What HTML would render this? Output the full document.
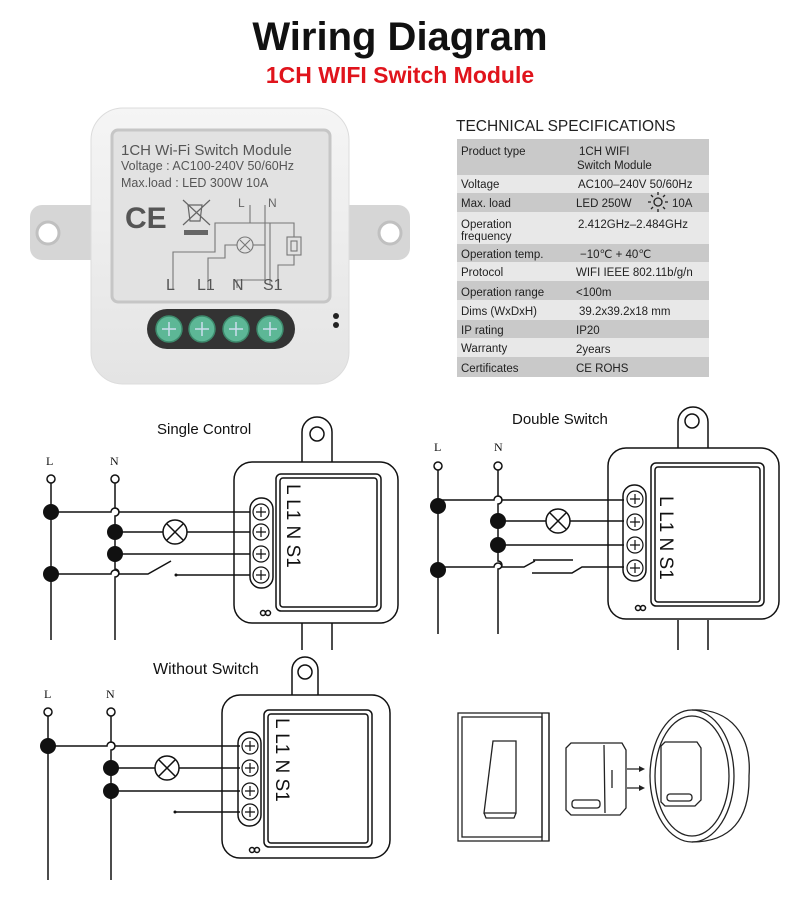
<!DOCTYPE html>
<html><head><meta charset="utf-8"><style>
html,body{margin:0;padding:0;background:#fff}
svg{display:block}
text{font-family:"Liberation Sans",Arial,sans-serif}
text.sf{font-family:"Liberation Serif",serif}
</style></head><body>
<svg width="800" height="900" viewBox="0 0 800 900" xmlns="http://www.w3.org/2000/svg">
<defs>
<linearGradient id="bodyg" x1="0" y1="0" x2="0" y2="1"><stop offset="0" stop-color="#f5f5f5"/><stop offset="1" stop-color="#e4e4e4"/></linearGradient>
</defs>
<text x="400" y="50" text-anchor="middle" font-size="40" font-weight="bold" fill="#111">Wiring Diagram</text>
<text x="400" y="83" text-anchor="middle" font-size="23" font-weight="bold" fill="#e0141c">1CH WIFI Switch Module</text>

<!-- Photo module -->
<g>
<rect x="30" y="205" width="80" height="55" rx="12" fill="#d6d6d6"/>
<rect x="330" y="205" width="80" height="55" rx="12" fill="#d6d6d6"/>
<circle cx="48" cy="233" r="11" fill="#fff" stroke="#c0c0c0" stroke-width="3"/>
<circle cx="390" cy="233" r="11" fill="#fff" stroke="#c0c0c0" stroke-width="3"/>
<rect x="91" y="108" width="258" height="276" rx="32" fill="url(#bodyg)" stroke="#dcdcdc"/>
<rect x="112" y="130" width="218" height="172" rx="6" fill="#e2e2e2" stroke="#c6c6c6" stroke-width="3"/>
<text x="121" y="155" font-size="15" fill="#555">1CH Wi-Fi Switch Module</text>
<text x="121" y="170" font-size="12.5" fill="#555">Voltage : AC100-240V 50/60Hz</text>
<text x="121" y="187" font-size="12.5" fill="#555">Max.load : LED 300W  10A</text>
<text x="125" y="228" font-size="30" font-weight="bold" fill="#555">CE</text>
<g stroke="#666" fill="none" stroke-width="1.2">
<path d="M183 200 L210 225 M210 200 L183 225 M188 205 h14 l-2 16 h-10 z"/>
</g>
<rect x="184" y="230" width="24" height="5" fill="#666"/>
<g stroke="#777" fill="none" stroke-width="1.1">
<path d="M173 290 V252 H215 V223 H270 V285"/>
<path d="M250 205 V223"/>
<path d="M265 205 V225 V280 H237 V288"/>
<circle cx="245" cy="245" r="8"/>
<path d="M240 240 L250 250 M250 240 L240 250"/>
<path d="M237 245 H225 V258 H208 V290"/>
<path d="M253 245 H265"/>
<rect x="287" y="237" width="14" height="18"/><rect x="291" y="241" width="6" height="10"/>
<path d="M265 223 H294 V237 M294 255 V265 H278 V288"/>
</g>
<text x="238" y="207" font-size="12" fill="#666">L</text><text x="268" y="207" font-size="12" fill="#666">N</text>
<text x="166" y="290" font-size="16" fill="#555">L</text>
<text x="197" y="290" font-size="16" fill="#555">L1</text>
<text x="232" y="290" font-size="16" fill="#555">N</text>
<text x="263" y="290" font-size="16" fill="#555">S1</text>
<rect x="147" y="309" width="148" height="40" rx="20" fill="#333"/>
<g fill="#5db796" stroke="#3d8a6c" stroke-width="1.5">
<circle cx="169" cy="329" r="13"/><circle cx="202" cy="329" r="13"/><circle cx="236" cy="329" r="13"/><circle cx="270" cy="329" r="13"/>
</g>
<g stroke="#cde" stroke-width="1.5"><path d="M162 329h14M169 322v14M195 329h14M202 322v14M229 329h14M236 322v14M263 329h14M270 322v14"/></g>
<circle cx="336" cy="316" r="3" fill="#222"/><circle cx="336" cy="325" r="3" fill="#222"/>
</g>

<!-- Spec table -->
<text x="456" y="131" font-size="15.5" fill="#222">TECHNICAL SPECIFICATIONS</text>
<g>
<rect x="457" y="139" width="252" height="36" fill="#c9c9c9"/>
<rect x="457" y="175" width="252" height="18" fill="#e8e8e8"/>
<rect x="457" y="193" width="252" height="19" fill="#c9c9c9"/>
<rect x="457" y="212" width="252" height="32" fill="#e8e8e8"/>
<rect x="457" y="244" width="252" height="18" fill="#c9c9c9"/>
<rect x="457" y="262" width="252" height="19" fill="#e8e8e8"/>
<rect x="457" y="281" width="252" height="19" fill="#c9c9c9"/>
<rect x="457" y="300" width="252" height="20" fill="#e8e8e8"/>
<rect x="457" y="320" width="252" height="18" fill="#c9c9c9"/>
<rect x="457" y="338" width="252" height="19" fill="#e8e8e8"/>
<rect x="457" y="357" width="252" height="20" fill="#c9c9c9"/>
</g>
<g font-size="11.5" fill="#222">
<text x="461" y="155">Product type</text><text x="579" y="155">1CH WIFI</text><text x="577" y="169">Switch Module</text>
<text x="461" y="188">Voltage</text><text x="578" y="188">AC100–240V 50/60Hz</text>
<text x="461" y="207">Max. load</text><text x="576" y="207">LED 250W</text><text x="672" y="207">10A</text>
<text x="461" y="228">Operation</text><text x="461" y="240">frequency</text><text x="578" y="228">2.412GHz–2.484GHz</text>
<text x="461" y="258">Operation temp.</text><text x="580" y="258">−10℃ + 40℃</text>
<text x="461" y="276">Protocol</text><text x="576" y="276">WIFI  IEEE 802.11b/g/n</text>
<text x="461" y="296">Operation range</text><text x="576" y="296">&lt;100m</text>
<text x="461" y="315">Dims (WxDxH)</text><text x="579" y="315">39.2x39.2x18 mm</text>
<text x="461" y="334">IP rating</text><text x="576" y="334">IP20</text>
<text x="461" y="352">Warranty</text><text x="576" y="353">2years</text>
<text x="461" y="372">Certificates</text><text x="576" y="372">CE ROHS</text>
</g>
<g stroke="#222" stroke-width="1.3" fill="none"><circle cx="658" cy="202" r="4"/><path d="M651 202h-3M665 202h3M658 195v-3M658 209v3M653 197l-2-2M663 207l2 2M663 197l2-2M653 207l-2 2"/></g>

<!-- Single control -->
<text x="157" y="434" font-size="15" fill="#111">Single Control</text>
<text class="sf" x="46" y="465" font-size="12" fill="#111" style="font-family:'Liberation Serif',serif">L</text>
<text class="sf" x="110" y="465" font-size="12" fill="#111" style="font-family:'Liberation Serif',serif">N</text>
<g stroke="#111" stroke-width="1.5" fill="none">
<circle cx="51" cy="479" r="4"/><circle cx="115" cy="479" r="4"/>
<path d="M51 483V640M115 483V508a4 4 0 0 1 0 8V569a4 4 0 0 1 0 8V640"/>
<path d="M51 512H111a4 4 0 0 1 8 0H250"/>
<path d="M115 532H163M187 532H250"/>
<circle cx="175" cy="532" r="12"/><path d="M167 524l16 16M183 524l-16 16"/>
<path d="M115 554H250"/>
<path d="M51 574H111a4 4 0 0 1 8 0H148L171 561M176 575H250"/>
<path d="M302 462V432a15 15 0 0 1 30 0V462M302 623V650M332 623V650"/>
<circle cx="317" cy="434" r="7"/>
<rect x="234" y="462" width="164" height="161" rx="18"/>
<rect x="276" y="474" width="105" height="137" rx="5"/><rect x="280" y="478" width="97" height="129" rx="3"/>
<rect x="250" y="498" width="23" height="90" rx="11"/>
<g stroke-width="1.2"><circle cx="261" cy="512" r="8"/><circle cx="261" cy="532" r="8"/><circle cx="261" cy="554" r="8"/><circle cx="261" cy="575" r="8"/>
<path d="M256 512h10M261 507v10M256 532h10M261 527v10M256 554h10M261 549v10M256 575h10M261 570v10"/></g>
<circle cx="263" cy="613" r="2.5"/><circle cx="268" cy="613" r="2.5"/>
</g>
<g fill="#111"><circle cx="51" cy="512" r="8"/><circle cx="51" cy="574" r="8"/><circle cx="115" cy="532" r="8"/><circle cx="115" cy="554" r="8"/><circle cx="176" cy="575" r="1.5"/></g>
<text x="0" y="0" font-size="19" fill="#111" transform="translate(287,484) rotate(90)">L L1 N S1</text>

<!-- Double switch -->
<text x="512" y="424" font-size="15" fill="#111">Double Switch</text>
<text class="sf" x="434" y="451" font-size="12" fill="#111" style="font-family:'Liberation Serif',serif">L</text>
<text class="sf" x="494" y="451" font-size="12" fill="#111" style="font-family:'Liberation Serif',serif">N</text>
<g stroke="#111" stroke-width="1.5" fill="none">
<circle cx="438" cy="466" r="4"/><circle cx="498" cy="466" r="4"/>
<path d="M438 470V634M498 470V496a4 4 0 0 1 0 8V561a4 4 0 0 1 0 8V634"/>
<path d="M438 500H494a4 4 0 0 1 8 0H624"/>
<path d="M498 521H546M570 521H624"/>
<circle cx="558" cy="521" r="12"/><path d="M550 513l16 16M566 513l-16 16"/>
<path d="M498 545H624"/>
<path d="M438 567H494a4 4 0 0 1 8 0H524L535 561M533 560H573M532 573H572L582 567H624"/>
<path d="M678 448V422a15 15 0 0 1 30 0V448M678 620V650M708 620V650"/>
<circle cx="692" cy="421" r="7"/>
<rect x="608" y="448" width="171" height="171" rx="18"/>
<rect x="651" y="463" width="113" height="143" rx="5"/><rect x="655" y="467" width="105" height="135" rx="3"/>
<rect x="623" y="485" width="23" height="96" rx="11"/>
<g stroke-width="1.2"><circle cx="635" cy="499" r="8"/><circle cx="635" cy="522" r="8"/><circle cx="635" cy="545" r="8"/><circle cx="635" cy="568" r="8"/>
<path d="M630 499h10M635 494v10M630 522h10M635 517v10M630 545h10M635 540v10M630 568h10M635 563v10"/></g>
<circle cx="638" cy="608" r="2.5"/><circle cx="643" cy="608" r="2.5"/>
</g>
<g fill="#111"><circle cx="438" cy="506" r="8"/><circle cx="438" cy="570" r="8"/><circle cx="498" cy="521" r="8"/><circle cx="498" cy="545" r="8"/></g>
<text x="0" y="0" font-size="19" fill="#111" transform="translate(660,496) rotate(90)">L L1 N S1</text>

<!-- Without switch -->
<text x="153" y="674" font-size="16" fill="#111">Without Switch</text>
<text class="sf" x="44" y="698" font-size="12" fill="#111" style="font-family:'Liberation Serif',serif">L</text>
<text class="sf" x="106" y="698" font-size="12" fill="#111" style="font-family:'Liberation Serif',serif">N</text>
<g stroke="#111" stroke-width="1.5" fill="none">
<circle cx="48" cy="712" r="4"/><circle cx="111" cy="712" r="4"/>
<path d="M48 716V880M111 716V742a4 4 0 0 1 0 8V880"/>
<path d="M48 746H107a4 4 0 0 1 8 0H240"/>
<path d="M111 768H155M179 768H240"/>
<circle cx="167" cy="768" r="12"/><path d="M159 760l16 16M175 760l-16 16"/>
<path d="M111 791H240"/>
<path d="M175 812H240"/>
<path d="M292 695V670a13 13 0 0 1 26 0V695"/>
<circle cx="305" cy="672" r="7"/>
<rect x="222" y="695" width="168" height="163" rx="18"/>
<rect x="264" y="710" width="108" height="137" rx="5"/><rect x="268" y="714" width="100" height="129" rx="3"/>
<rect x="238" y="732" width="23" height="94" rx="11"/>
<g stroke-width="1.2"><circle cx="250" cy="746" r="8"/><circle cx="250" cy="768" r="8"/><circle cx="250" cy="791" r="8"/><circle cx="250" cy="812" r="8"/>
<path d="M245 746h10M250 741v10M245 768h10M250 763v10M245 791h10M250 786v10M245 812h10M250 807v10"/></g>
<circle cx="252" cy="850" r="2.5"/><circle cx="257" cy="850" r="2.5"/>
</g>
<g fill="#111"><circle cx="48" cy="746" r="8"/><circle cx="111" cy="768" r="8"/><circle cx="111" cy="791" r="8"/><circle cx="175" cy="812" r="1.5"/></g>
<text x="0" y="0" font-size="19" fill="#111" transform="translate(276,718) rotate(90)">L L1 N S1</text>

<!-- Install illustration -->
<g stroke="#222" stroke-width="1.3" fill="none">
<rect x="458" y="713" width="91" height="128"/>
<rect x="462" y="717" width="80" height="120"/>
<path d="M542 713V841M549 713V841"/>
<path d="M493 741H516V813H484Z M484 813L486 818H514L516 813"/>
<path d="M566 748L571 743H622L626 750V808L620 815H571L566 810Z"/>
<path d="M604 745L605 813M612 770v18"/>
<rect x="572" y="800" width="28" height="8" rx="3"/>
<path d="M627 769h12M627 788h12"/>
<ellipse cx="692" cy="776" rx="42" ry="66"/>
<ellipse cx="692" cy="776" rx="37" ry="60"/>
<path d="M692 710C730 708 752 735 749 776C750 820 730 842 692 842"/>
<path d="M661 746L665 742H697L701 748V800L695 806H665L661 802Z"/>
<rect x="667" y="794" width="25" height="7" rx="3"/>
</g>
<g fill="#222"><path d="M639 766l6 3-6 3zM639 785l6 3-6 3z"/></g>
</svg>
</body></html>
